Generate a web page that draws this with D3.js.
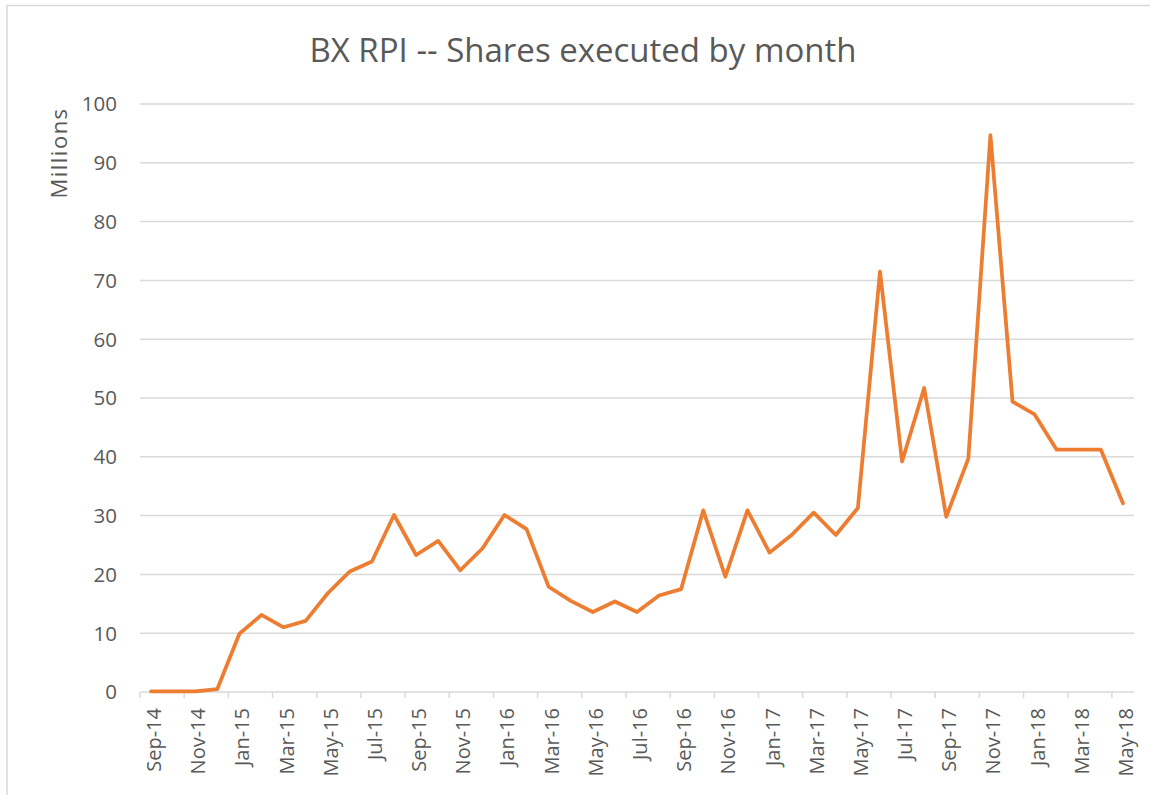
<!DOCTYPE html>
<html><head><meta charset="utf-8">
<script src="https://cdn.jsdelivr.net/npm/d3@7/dist/d3.min.js"></script>
<style>body{margin:0;background:#fff}svg{display:block}text{font-family:"Open Sans","Noto Sans",sans-serif;fill:#595959}</style>
</head><body><svg id="c" width="1150" height="795"></svg>
<script>
const months = ["Sep-14","Oct-14","Nov-14","Dec-14","Jan-15","Feb-15","Mar-15","Apr-15","May-15","Jun-15","Jul-15","Aug-15",
"Sep-15","Oct-15","Nov-15","Dec-15","Jan-16","Feb-16","Mar-16","Apr-16","May-16","Jun-16","Jul-16","Aug-16",
"Sep-16","Oct-16","Nov-16","Dec-16","Jan-17","Feb-17","Mar-17","Apr-17","May-17","Jun-17","Jul-17","Aug-17",
"Sep-17","Oct-17","Nov-17","Dec-17","Jan-18","Feb-18","Mar-18","Apr-18","May-18"];
const shares = [0.1,0.1,0.1,0.5,9.9,13.1,11.0,12.1,16.8,20.5,22.2,30.1,
23.3,25.7,20.7,24.4,30.1,27.7,17.9,15.5,13.6,15.4,13.6,16.4,
17.5,30.9,19.6,30.9,23.7,26.7,30.5,26.7,31.3,71.5,39.2,51.7,
29.8,39.7,94.7,49.4,47.2,41.2,41.2,41.2,32.1];
const yTicks = [0,10,20,30,40,50,60,70,80,90,100];
const title = "BX RPI -- Shares executed by month";
const yTitle = "Millions";

const svg = d3.select("#c");
const L = 140, R = 1134, T = 104, B = 692;
svg.append("rect").attr("x",7).attr("y",5.5).attr("width",1200).attr("height",900)
  .attr("fill","#fff").attr("stroke","#d9d9d9").attr("stroke-width",1.5);

const x = d3.scaleBand().domain(months).range([L,R]).paddingInner(0).paddingOuter(0);
const y = d3.scaleLinear().domain([0,100]).range([B,T]);

// gridlines
svg.append("g").selectAll("line").data(yTicks.filter(d=>d>0)).join("line")
  .attr("x1",L).attr("x2",R).attr("y1",d=>y(d)).attr("y2",d=>y(d))
  .attr("stroke","#d9d9d9").attr("stroke-width",1.5);

// y labels
svg.append("g").selectAll("text").data(yTicks).join("text")
  .attr("x",117).attr("y",d=>y(d)).attr("dy","0.36em").attr("text-anchor","end")
  .attr("font-size",20.5).text(d=>d);

// x axis
const xg = svg.append("g");
xg.append("line").attr("x1",L).attr("x2",R).attr("y1",B).attr("y2",B).attr("stroke","#d9d9d9").attr("stroke-width",1.5);
const tickIdx = d3.range(0, months.length, 2);
xg.selectAll("line.t").data(tickIdx).join("line").attr("class","t")
  .attr("x1",i=>x(months[i])).attr("x2",i=>x(months[i]))
  .attr("y1",B).attr("y2",B+6).attr("stroke","#d9d9d9").attr("stroke-width",1.5);
xg.selectAll("text").data(months.filter((m,i)=>i%2===0)).join("text")
  .attr("transform",m=>`translate(${x(m)+x.bandwidth()/2+3},${B+16}) rotate(-90)`)
  .attr("text-anchor","end").attr("dy","0.35em").attr("font-size",20).text(m=>m);

// line
const line = d3.line().x((d,i)=>x(months[i])+x.bandwidth()/2).y(d=>y(d));
svg.append("path").datum(shares).attr("d",line).attr("fill","none")
  .attr("stroke","#ED7D31").attr("stroke-width",3.75).attr("stroke-linejoin","round").attr("stroke-linecap","round");

svg.append("text").attr("x",583).attr("y",62).attr("text-anchor","middle").attr("font-size",33).text(title);
svg.append("text").attr("transform","translate(59,153) rotate(-90)").attr("text-anchor","middle")
  .attr("dy","0.35em").attr("font-size",22).attr("letter-spacing",1.5).text(yTitle);
</script></body></html>
